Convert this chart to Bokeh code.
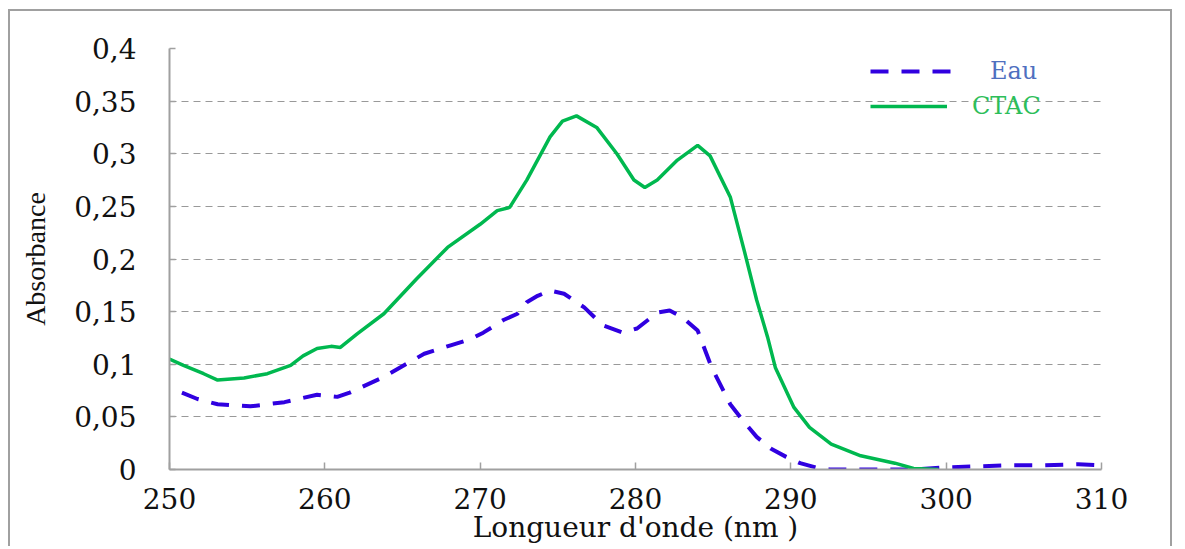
from bokeh.plotting import figure
from bokeh.models import FixedTicker, Legend, LegendItem
from bokeh.embed import file_html
from bokeh.resources import INLINE

# ---- data ----
wl_eau = [250.8, 251.8, 253.1, 255.2, 257.4, 259.5, 260.8, 261.6, 263.8, 265.1,
          266.4, 268.1, 269.4, 270.2, 271.5, 272.4, 273.0, 273.7, 274.5, 275.4,
          276.7, 277.9, 279.2, 280.1, 281.4, 282.2, 283.0, 284.0, 284.9, 286.1,
          287.0, 287.8, 288.7, 289.7, 290.6, 291.6, 292.5, 294.5, 296.4, 298.0,
          300.0, 302.0, 304.0, 306.0, 308.5, 310.0]
abs_eau = [0.073, 0.067, 0.062, 0.060, 0.064, 0.071, 0.069, 0.073, 0.088, 0.099,
           0.110, 0.118, 0.124, 0.130, 0.142, 0.148, 0.159, 0.165, 0.170, 0.167,
           0.154, 0.137, 0.130, 0.134, 0.149, 0.151, 0.145, 0.132, 0.097, 0.062,
           0.045, 0.031, 0.020, 0.012, 0.006, 0.002, 0.000, 0.000, 0.000, 0.000,
           0.002, 0.003, 0.004, 0.004, 0.005, 0.004]

wl_ctac = [250.0, 250.9, 252.2, 253.1, 254.8, 256.3, 257.8, 258.6, 259.5, 260.4,
           261.0, 262.1, 263.8, 265.9, 267.9, 270.0, 271.1, 271.9, 273.0, 274.5,
           275.3, 276.2, 277.5, 278.8, 279.9, 280.6, 281.4, 282.7, 284.0, 284.8,
           286.1, 287.0, 287.8, 288.5, 289.0, 290.2, 291.2, 292.6, 294.5, 296.7,
           297.9, 299.5]
abs_ctac = [0.105, 0.099, 0.091, 0.085, 0.087, 0.091, 0.099, 0.108, 0.115, 0.117,
            0.116, 0.129, 0.148, 0.181, 0.211, 0.233, 0.246, 0.249, 0.275, 0.316,
            0.331, 0.336, 0.325, 0.300, 0.275, 0.268, 0.275, 0.294, 0.308, 0.298,
            0.259, 0.208, 0.161, 0.126, 0.097, 0.059, 0.040, 0.024, 0.013, 0.006,
            0.001, 0.000]

x_ticks = [250, 260, 270, 280, 290, 300, 310]
y_ticks = [0, 0.05, 0.1, 0.15, 0.2, 0.25, 0.3, 0.35, 0.4]
y_tick_labels = ["0", "0,05", "0,1", "0,15", "0,2", "0,25", "0,3", "0,35", "0,4"]
series_names = ["Eau", "CTAC"]
x_title = "Longueur d'onde (nm )"
y_title = "Absorbance"

FONT = "DejaVu Serif"
FONT_Y = "Liberation Serif"
BLUE = "#3000E0"
GREEN = "#00B84F"

p = figure(width=1164, height=537, x_range=(250, 310), y_range=(0, 0.4),
           output_backend="svg", toolbar_location=None,
           min_border_left=159, min_border_right=73,
           min_border_top=37, min_border_bottom=79)
p.styles = {"margin-left": "8px", "margin-top": "9px",
            "border-left": "2px solid #a0a0a0", "border-top": "2px solid #a0a0a0",
            "border-right": "2px solid #a0a0a0"}
p.outline_line_color = None
p.background_fill_color = "white"
p.border_fill_color = "white"

r_eau = p.line(wl_eau, abs_eau, line_color=BLUE, line_width=4, line_dash="18 13")
r_ctac = p.line(wl_ctac, abs_ctac, line_color=GREEN, line_width=3.5)

# axes
p.xaxis.ticker = FixedTicker(ticks=x_ticks)
p.yaxis.ticker = FixedTicker(ticks=y_ticks)
p.yaxis.major_label_overrides = {t: s for t, s in zip(y_ticks, y_tick_labels)}
p.xaxis.axis_label = x_title
p.yaxis.axis_label = y_title
for ax in (p.xaxis, p.yaxis):
    ax.axis_line_color = "#a0a0a0"
    ax.axis_line_width = 2
    ax.major_tick_line_color = "#a0a0a0"
    ax.major_tick_line_width = 1.5
    ax.minor_tick_line_color = None
    ax.major_label_text_font = FONT
    ax.major_label_text_color = "#111111"
    ax.axis_label_text_font_style = "normal"
    ax.axis_label_text_color = "#111111"
p.xaxis.axis_label_text_font = FONT
p.yaxis.axis_label_text_font = FONT_Y
p.xaxis.major_tick_in = 7
p.xaxis.major_tick_out = 0
p.yaxis.major_tick_in = 6
p.yaxis.major_tick_out = 0
p.xaxis.major_label_text_font_size = "28px"
p.yaxis.major_label_text_font_size = "28px"
p.xaxis.major_label_standoff = 18
p.yaxis.major_label_standoff = 33
p.xaxis.axis_label_text_font_size = "28px"
p.yaxis.axis_label_text_font_size = "28px"
p.xaxis.axis_label_standoff = -1
p.yaxis.axis_label_standoff = 20

# grid
p.xgrid.grid_line_color = None
p.ygrid.grid_line_color = "#999999"
p.ygrid.grid_line_dash = "7 5"
p.ygrid.grid_line_width = 1

# legends (separate so that each label keeps its own colour)
leg1 = Legend(items=[LegendItem(label=series_names[0], renderers=[r_eau])],
              location=(701, 379), label_text_color="#4F6FBF",
              label_standoff=35, glyph_width=85)
leg2 = Legend(items=[LegendItem(label=series_names[1], renderers=[r_ctac])],
              location=(701, 344), label_text_color="#2DBE5A",
              label_standoff=25, glyph_width=77)
for lg in (leg1, leg2):
    lg.label_text_font = FONT
    lg.label_text_font_size = "24px"
    lg.border_line_color = None
    lg.background_fill_alpha = 0
    lg.padding = 0
    lg.margin = 0
    lg.spacing = 0
    lg.glyph_height = 24
    lg.label_height = 38
    p.add_layout(lg)

open("out.html", "w").write(file_html(p, INLINE))
